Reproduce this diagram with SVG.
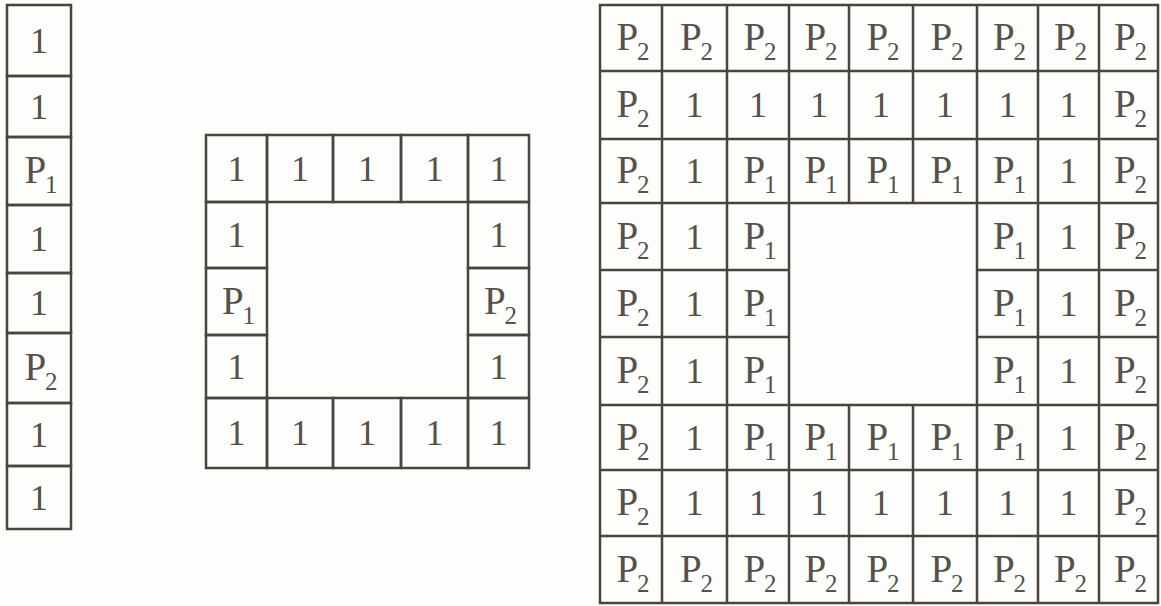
<svg xmlns="http://www.w3.org/2000/svg" width="1161" height="606" viewBox="0 0 1161 606">
<style>
.c{fill:none;stroke:#4a443e;stroke-width:2.5}
.t{font-family:"Liberation Serif","Times New Roman",serif;font-size:36px;fill:#56514b;text-anchor:middle}
.p{font-family:"Liberation Serif","Times New Roman",serif;font-size:39px;fill:#56514b;text-anchor:middle}
.s{font-size:25px}
</style>
<rect width="1161" height="606" fill="#fdfdfb"/>
<g id="strip">
<rect class="c" x="7" y="5" width="64" height="71"/><rect class="c" x="7" y="76" width="64" height="61"/><rect class="c" x="7" y="137" width="64" height="68"/><rect class="c" x="7" y="205" width="64" height="68"/><rect class="c" x="7" y="273" width="64" height="60"/><rect class="c" x="7" y="333" width="64" height="70"/><rect class="c" x="7" y="403" width="64" height="63"/><rect class="c" x="7" y="466" width="64" height="63"/>
<text class="t" x="39" y="52.5">1</text>
<text class="t" x="39" y="118.5">1</text>
<text class="p" x="41" y="183">P<tspan class="s" dx="-1" dy="10">1</tspan></text>
<text class="t" x="39" y="251">1</text>
<text class="t" x="39" y="315">1</text>
<text class="p" x="41" y="380">P<tspan class="s" dx="-1" dy="10">2</tspan></text>
<text class="t" x="39" y="446.5">1</text>
<text class="t" x="39" y="509.5">1</text>
</g>
<g id="frame">
<rect class="c" x="206" y="135" width="61" height="67"/><rect class="c" x="267" y="135" width="66" height="67"/><rect class="c" x="333" y="135" width="68" height="67"/><rect class="c" x="401" y="135" width="67" height="67"/><rect class="c" x="468" y="135" width="61" height="67"/>
<rect class="c" x="206" y="202" width="61" height="66"/><rect class="c" x="468" y="202" width="61" height="66"/>
<rect class="c" x="206" y="268" width="61" height="67"/><rect class="c" x="468" y="268" width="61" height="67"/>
<rect class="c" x="206" y="335" width="61" height="63"/><rect class="c" x="468" y="335" width="61" height="63"/>
<rect class="c" x="206" y="398" width="61" height="70"/><rect class="c" x="267" y="398" width="66" height="70"/><rect class="c" x="333" y="398" width="68" height="70"/><rect class="c" x="401" y="398" width="67" height="70"/><rect class="c" x="468" y="398" width="61" height="70"/>
<text class="t" x="236.5" y="180.5">1</text><text class="t" x="300" y="180.5">1</text><text class="t" x="367" y="180.5">1</text><text class="t" x="434.5" y="180.5">1</text><text class="t" x="498.5" y="180.5">1</text>
<text class="t" x="236.5" y="247">1</text><text class="t" x="498.5" y="247">1</text>
<text class="p" x="238.5" y="313.5">P<tspan class="s" dx="-1" dy="10">1</tspan></text><text class="p" x="500.5" y="313.5">P<tspan class="s" dx="-1" dy="10">2</tspan></text>
<text class="t" x="236.5" y="378.5">1</text><text class="t" x="498.5" y="378.5">1</text>
<text class="t" x="236.5" y="445">1</text><text class="t" x="300" y="445">1</text><text class="t" x="367" y="445">1</text><text class="t" x="434.5" y="445">1</text><text class="t" x="498.5" y="445">1</text>
</g>
<g id="grid">
<g id="grid-lines">
<rect class="c" x="600" y="5" width="558" height="598"/>
<path class="c" d="M600 71H1158M600 139H1158M600 203H1158M600 470H1158M600 536H1158M600 270H789M977 270H1158M600 337H789M977 337H1158M600 405H1158"/>
<path class="c" d="M662 5V603M727 5V603M1038 5V603M1099 5V603M789 5V603M849 5V203M849 405V603M913 5V203M913 405V603M977 5V603"/>
</g>
<g id="row0">
<text class="p" x="633" y="50">P<tspan class="s" dx="-1" dy="10">2</tspan></text><text class="p" x="696.5" y="50">P<tspan class="s" dx="-1" dy="10">2</tspan></text><text class="p" x="760" y="50">P<tspan class="s" dx="-1" dy="10">2</tspan></text><text class="p" x="821" y="50">P<tspan class="s" dx="-1" dy="10">2</tspan></text><text class="p" x="883" y="50">P<tspan class="s" dx="-1" dy="10">2</tspan></text><text class="p" x="947" y="50">P<tspan class="s" dx="-1" dy="10">2</tspan></text><text class="p" x="1009.5" y="50">P<tspan class="s" dx="-1" dy="10">2</tspan></text><text class="p" x="1070.5" y="50">P<tspan class="s" dx="-1" dy="10">2</tspan></text><text class="p" x="1130.5" y="50">P<tspan class="s" dx="-1" dy="10">2</tspan></text>
</g>
<g id="row1">
<text class="p" x="633" y="117">P<tspan class="s" dx="-1" dy="10">2</tspan></text><text class="t" x="694.5" y="117">1</text><text class="t" x="758" y="117">1</text><text class="t" x="819" y="117">1</text><text class="t" x="881" y="117">1</text><text class="t" x="945" y="117">1</text><text class="t" x="1007.5" y="117">1</text><text class="t" x="1068.5" y="117">1</text><text class="p" x="1130.5" y="117">P<tspan class="s" dx="-1" dy="10">2</tspan></text>
</g>
<g id="row2">
<text class="p" x="633" y="183">P<tspan class="s" dx="-1" dy="10">2</tspan></text><text class="t" x="694.5" y="183">1</text><text class="p" x="760" y="183">P<tspan class="s" dx="-1" dy="10">1</tspan></text><text class="p" x="821" y="183">P<tspan class="s" dx="-1" dy="10">1</tspan></text><text class="p" x="883" y="183">P<tspan class="s" dx="-1" dy="10">1</tspan></text><text class="p" x="947" y="183">P<tspan class="s" dx="-1" dy="10">1</tspan></text><text class="p" x="1009.5" y="183">P<tspan class="s" dx="-1" dy="10">1</tspan></text><text class="t" x="1068.5" y="183">1</text><text class="p" x="1130.5" y="183">P<tspan class="s" dx="-1" dy="10">2</tspan></text>
</g>
<g id="row3">
<text class="p" x="633" y="248.5">P<tspan class="s" dx="-1" dy="10">2</tspan></text><text class="t" x="694.5" y="248.5">1</text><text class="p" x="760" y="248.5">P<tspan class="s" dx="-1" dy="10">1</tspan></text><text class="p" x="1009.5" y="248.5">P<tspan class="s" dx="-1" dy="10">1</tspan></text><text class="t" x="1068.5" y="248.5">1</text><text class="p" x="1130.5" y="248.5">P<tspan class="s" dx="-1" dy="10">2</tspan></text>
</g>
<g id="row4">
<text class="p" x="633" y="315.5">P<tspan class="s" dx="-1" dy="10">2</tspan></text><text class="t" x="694.5" y="315.5">1</text><text class="p" x="760" y="315.5">P<tspan class="s" dx="-1" dy="10">1</tspan></text><text class="p" x="1009.5" y="315.5">P<tspan class="s" dx="-1" dy="10">1</tspan></text><text class="t" x="1068.5" y="315.5">1</text><text class="p" x="1130.5" y="315.5">P<tspan class="s" dx="-1" dy="10">2</tspan></text>
</g>
<g id="row5">
<text class="p" x="633" y="383">P<tspan class="s" dx="-1" dy="10">2</tspan></text><text class="t" x="694.5" y="383">1</text><text class="p" x="760" y="383">P<tspan class="s" dx="-1" dy="10">1</tspan></text><text class="p" x="1009.5" y="383">P<tspan class="s" dx="-1" dy="10">1</tspan></text><text class="t" x="1068.5" y="383">1</text><text class="p" x="1130.5" y="383">P<tspan class="s" dx="-1" dy="10">2</tspan></text>
</g>
<g id="row6">
<text class="p" x="633" y="449.5">P<tspan class="s" dx="-1" dy="10">2</tspan></text><text class="t" x="694.5" y="449.5">1</text><text class="p" x="760" y="449.5">P<tspan class="s" dx="-1" dy="10">1</tspan></text><text class="p" x="821" y="449.5">P<tspan class="s" dx="-1" dy="10">1</tspan></text><text class="p" x="883" y="449.5">P<tspan class="s" dx="-1" dy="10">1</tspan></text><text class="p" x="947" y="449.5">P<tspan class="s" dx="-1" dy="10">1</tspan></text><text class="p" x="1009.5" y="449.5">P<tspan class="s" dx="-1" dy="10">1</tspan></text><text class="t" x="1068.5" y="449.5">1</text><text class="p" x="1130.5" y="449.5">P<tspan class="s" dx="-1" dy="10">2</tspan></text>
</g>
<g id="row7">
<text class="p" x="633" y="515">P<tspan class="s" dx="-1" dy="10">2</tspan></text><text class="t" x="694.5" y="515">1</text><text class="t" x="758" y="515">1</text><text class="t" x="819" y="515">1</text><text class="t" x="881" y="515">1</text><text class="t" x="945" y="515">1</text><text class="t" x="1007.5" y="515">1</text><text class="t" x="1068.5" y="515">1</text><text class="p" x="1130.5" y="515">P<tspan class="s" dx="-1" dy="10">2</tspan></text>
</g>
<g id="row8">
<text class="p" x="633" y="581.5">P<tspan class="s" dx="-1" dy="10">2</tspan></text><text class="p" x="696.5" y="581.5">P<tspan class="s" dx="-1" dy="10">2</tspan></text><text class="p" x="760" y="581.5">P<tspan class="s" dx="-1" dy="10">2</tspan></text><text class="p" x="821" y="581.5">P<tspan class="s" dx="-1" dy="10">2</tspan></text><text class="p" x="883" y="581.5">P<tspan class="s" dx="-1" dy="10">2</tspan></text><text class="p" x="947" y="581.5">P<tspan class="s" dx="-1" dy="10">2</tspan></text><text class="p" x="1009.5" y="581.5">P<tspan class="s" dx="-1" dy="10">2</tspan></text><text class="p" x="1070.5" y="581.5">P<tspan class="s" dx="-1" dy="10">2</tspan></text><text class="p" x="1130.5" y="581.5">P<tspan class="s" dx="-1" dy="10">2</tspan></text>
</g>
</g>
</svg>
